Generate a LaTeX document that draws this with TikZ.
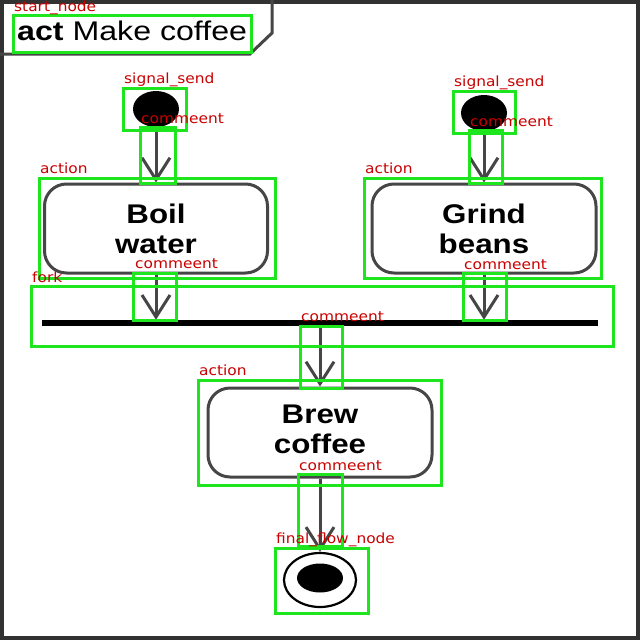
\documentclass[tikz,border=0pt]{standalone}
\usepackage{fontspec}
\setmainfont{Liberation Sans}
\newfontfamily\lblfont{DejaVu Sans}
\usetikzlibrary{arrows.meta,shapes.geometric}
\definecolor{annogreen}{RGB}{30,230,30}
\definecolor{annored}{RGB}{200,0,0}
\definecolor{umlgray}{RGB}{70,70,70}
\definecolor{framegray}{RGB}{50,50,50}
\newcommand{\wide}[1]{\scalebox{1.16}[1]{#1}}
\newcommand{\lwide}[1]{\scalebox{1.1}[1]{#1}}
\begin{document}
\begin{tikzpicture}[x=1pt,y=-1pt,
  actionbox/.style={draw=umlgray, line width=3pt, rounded corners=22pt,
    minimum width=223pt, minimum height=89pt, inner sep=0pt,
    font=\bfseries\fontsize{27}{30}\selectfont, align=center},
  initnode/.style={ellipse, fill=black, minimum width=46pt, minimum height=36pt, inner sep=0pt},
  flow/.style={draw=umlgray, line width=3pt, -{Straight Barb[length=22pt,width=28pt]}},
  anno/.style={draw=annogreen, line width=3pt},
  lbl/.style={text=annored, font=\lblfont\fontsize{14}{14}\selectfont, anchor=base west, inner sep=0pt}]
\useasboundingbox (0,0) rectangle (640,640);
\fill[white] (0,0) rectangle (640,640);
% frame
\draw[line width=4pt, framegray] (2,2) rectangle (638,638);
\draw[line width=3pt, umlgray] (272,0) -- (272,33) -- (250,54) -- (0,54);
\node[anchor=base west, inner sep=0pt, font=\fontsize{27}{30}\selectfont] (title) at (17,40) {\scalebox{1.19}[1]{\textbf{act} Make coffee}};
% diagram
\node[initnode] (initL) at (156,109) {};
\node[initnode] (initR) at (484,113) {};
\node[actionbox] (boil) at (156,228.5) {\wide{Boil}\\\wide{water}};
\node[actionbox, minimum width=224pt] (grind) at (484,228.5) {\wide{Grind}\\\wide{beans}};
\node[fill=black, minimum width=556pt, minimum height=6pt, inner sep=0pt] (bar) at (320,323) {};
\node[actionbox, minimum width=224pt, text depth=7pt] (brew) at (320,432.5) {\wide{Brew}\\\wide{coffee}};
\node[ellipse, draw=black, line width=2.2pt, minimum width=72pt, minimum height=54pt, inner sep=0pt] (final) at (320,580) {};
\node[ellipse, fill=black, minimum width=46pt, minimum height=29pt, inner sep=0pt] (finalin) at (320,578) {};
\draw[flow] (initL) -- (boil);
\draw[flow] (initR) -- (grind);
\draw[flow] (boil) -- (boil |- bar.north);
\draw[flow] (grind) -- (grind |- bar.north);
\draw[flow] (bar) -- (brew);
\draw[flow] (brew) -- (final);
% annotations
\draw[anno] (13,15) rectangle (251,52);
\draw[anno] (123,88) rectangle (186,130);
\draw[anno] (140,127) rectangle (175,183);
\draw[anno] (453,91) rectangle (515,133);
\draw[anno] (469,130) rectangle (502,183);
\draw[anno] (39,178) rectangle (275,278);
\draw[anno] (364,178) rectangle (601,278);
\draw[anno] (31,286) rectangle (613,346);
\draw[anno] (133,273) rectangle (176,320);
\draw[anno] (463,273) rectangle (506,320);
\draw[anno] (300,326) rectangle (342,388);
\draw[anno] (198,380) rectangle (441,485);
\draw[anno] (298,474) rectangle (342,546);
\draw[anno] (275,548) rectangle (368,613);
\node[lbl] (l1) at (14,11) {\lwide{start\_node}};
\node[lbl] (l2) at (124,83) {\lwide{signal\_send}};
\node[lbl] (l3) at (141,123) {\lwide{commeent}};
\node[lbl] (l4) at (454,86) {\lwide{signal\_send}};
\node[lbl] (l5) at (470,126) {\lwide{commeent}};
\node[lbl] (l6) at (40,173) {\lwide{action}};
\node[lbl] (l7) at (365,173) {\lwide{action}};
\node[lbl] (l8) at (32,282) {\lwide{fork}};
\node[lbl] (l9) at (135,268) {\lwide{commeent}};
\node[lbl] (l10) at (464,269) {\lwide{commeent}};
\node[lbl] (l11) at (301,321) {\lwide{commeent}};
\node[lbl] (l12) at (199,375) {\lwide{action}};
\node[lbl] (l13) at (299,470) {\lwide{commeent}};
\node[lbl] (l14) at (276,543) {\lwide{final\_flow\_node}};
\end{tikzpicture}
\end{document}
